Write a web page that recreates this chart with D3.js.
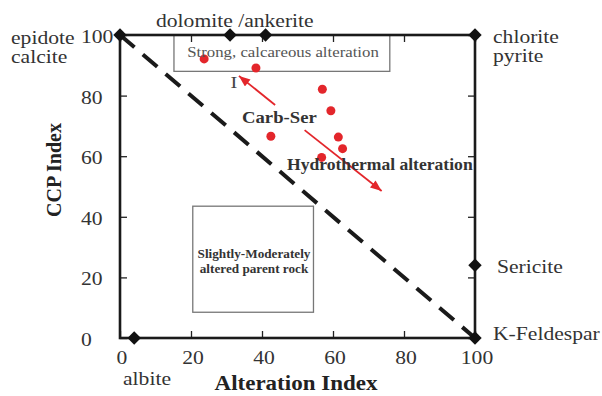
<!DOCTYPE html>
<html>
<head>
<meta charset="utf-8">
<script src="https://cdn.jsdelivr.net/npm/d3@7"></script>
<style>
  body { margin: 0; background: #fff; }
  text { font-family: "Liberation Serif", "Times New Roman", serif; }
</style>
</head>
<body>
<div id="chart"></div>
<script>
// Alteration box plot: AI vs CCP

// sample points
var aiValues = [23.7, 38.3, 57.0, 59.4, 42.5, 61.5, 62.7, 56.8];
var ccpValues = [92.1, 89.1, 82.1, 75.0, 66.6, 66.3, 62.5, 59.6];

// reference minerals (diamonds)
var mineralNames = ["epidote / calcite", "dolomite", "ankerite", "chlorite / pyrite", "sericite", "K-feldspar", "albite"];
var mineralAI = [0, 31, 41, 100, 100, 100, 4];
var mineralCCP = [100, 100, 100, 100, 24, 0, 0];

var tickValues = [0, 20, 40, 60, 80, 100];
var tickLabels = ["0", "20", "40", "60", "80", "100"];

// least altered / most altered diagonal
var diagonalAI = [0, 100];
var diagonalCCP = [100, 0];

// fields
var calcareousBox = { ai: [15.2, 76], ccp: [88, 100] };
var parentRockBox = { ai: [20.5, 54.5], ccp: [8.5, 43.5] };

// trend arrows [fromAI, fromCCP, toAI, toCCP]
var arrowCarb = [43.7, 76.9, 33.5, 86.5];
var arrowHydro = [52, 68.6, 73.7, 48.5];

var svgWidth = 602;
var svgHeight = 396;

var margin = {
    top: 35,
    right: 127,
    bottom: 58,
    left: 120
};

var width = svgWidth - margin.left - margin.right;
var height = svgHeight - margin.top - margin.bottom;

var svg = d3.select("#chart")
    .append("svg")
    .attr("width", svgWidth)
    .attr("height", svgHeight);

var chartGroup = svg.append("g")
    .attr("transform", `translate(${margin.left}, ${margin.top})`);

var x = d3.scaleLinear().domain([0, 100]).range([0, width]);
var y = d3.scaleLinear().domain([0, 100]).range([height, 0]);

var red = "#e3262b";

// arrow head
svg.append("defs").append("marker")
    .attr("id", "head")
    .attr("viewBox", "0 0 10 8")
    .attr("refX", 10)
    .attr("refY", 4)
    .attr("markerWidth", 12)
    .attr("markerHeight", 9)
    .attr("markerUnits", "userSpaceOnUse")
    .attr("orient", "auto")
    .append("path")
    .attr("d", "M0,0 L10,4 L0,8 z")
    .attr("fill", red);

// text helper, the source font is a bit wider than Times
function addText(g, px, py, str, size, weight, anchor, fill, sx) {
    return g.append("text")
        .attr("transform", `translate(${px}, ${py}) scale(${sx}, 1)`)
        .attr("text-anchor", anchor)
        .style("font-size", size + "px")
        .style("font-weight", weight)
        .attr("fill", fill)
        .text(str);
}

// field boxes
[calcareousBox, parentRockBox].forEach(function (b) {
    chartGroup.append("rect")
        .attr("x", x(b.ai[0]))
        .attr("y", y(b.ccp[1]))
        .attr("width", x(b.ai[1]) - x(b.ai[0]))
        .attr("height", y(b.ccp[0]) - y(b.ccp[1]))
        .attr("fill", "none")
        .attr("stroke", "#777")
        .attr("stroke-width", 1.3);
});

// dashed diagonal
var line = d3.line()
    .x(function (d, i) { return x(diagonalAI[i]); })
    .y(function (d, i) { return y(diagonalCCP[i]); });

chartGroup.append("path")
    .attr("d", line(diagonalAI))
    .attr("fill", "none")
    .attr("stroke", "#1a1a1a")
    .attr("stroke-width", 4)
    .attr("stroke-dasharray", "19,11");

// inward ticks on all four sides
var tickLen = 7;
var axes = [
    { axis: d3.axisLeft(y), tr: "translate(0,0)" },
    { axis: d3.axisRight(y), tr: `translate(${width},0)` },
    { axis: d3.axisTop(x), tr: "translate(0,0)" },
    { axis: d3.axisBottom(x), tr: `translate(0,${height})` }
];
axes.forEach(function (a) {
    var g = chartGroup.append("g")
        .attr("transform", a.tr)
        .call(a.axis.tickValues(tickValues).tickSize(-tickLen).tickSizeOuter(0).tickFormat(""));
    g.select(".domain").remove();
    g.selectAll("line").attr("stroke", "#222").attr("stroke-width", 1.3);
});

// frame
chartGroup.append("rect")
    .attr("width", width)
    .attr("height", height)
    .attr("fill", "none")
    .attr("stroke", "#1a1a1a")
    .attr("stroke-width", 2.6);

// tick labels
tickValues.forEach(function (v, i) {
    addText(svg, margin.left + x(v) + 2, margin.top + height + 26, tickLabels[i], 18, "normal", "middle", "#333", 1.2);
    addText(svg, 81, margin.top + y(v) + 8, tickLabels[i], 18, "normal", "start", "#333", 1.2);
});

// mineral diamonds
chartGroup.selectAll(".mineral")
    .data(mineralNames)
    .enter().append("path")
    .attr("class", "mineral")
    .attr("d", d3.symbol().type(d3.symbolSquare).size(90))
    .attr("transform", function (d, i) {
        return `translate(${x(mineralAI[i])}, ${y(mineralCCP[i])}) rotate(45)`;
    })
    .attr("fill", "#111");

// samples
chartGroup.selectAll("circle")
    .data(aiValues)
    .enter().append("circle")
    .attr("cx", function (d) { return x(d); })
    .attr("cy", function (d, i) { return y(ccpValues[i]); })
    .attr("r", 4.5)
    .attr("fill", red);

// trend arrows
[arrowCarb, arrowHydro].forEach(function (a) {
    chartGroup.append("line")
        .attr("x1", x(a[0]))
        .attr("y1", y(a[1]))
        .attr("x2", x(a[2]))
        .attr("y2", y(a[3]))
        .attr("stroke", red)
        .attr("stroke-width", 1.8)
        .attr("marker-end", "url(#head)");
});

// mineral labels
addText(svg, 11, 44, "epidote", 18, "normal", "start", "#333", 1.2);
addText(svg, 11, 63, "calcite", 18, "normal", "start", "#333", 1.2);
addText(svg, 156, 27, "dolomite /ankerite", 18, "normal", "start", "#333", 1.2);
addText(svg, 493, 43, "chlorite", 18, "normal", "start", "#333", 1.2);
addText(svg, 493, 62, "pyrite", 18, "normal", "start", "#333", 1.2);
addText(svg, 497, 273, "Sericite", 18, "normal", "start", "#333", 1.2);
addText(svg, 493, 340, "K-Feldespar", 18, "normal", "start", "#333", 1.2);
addText(svg, 123, 385, "albite", 18, "normal", "start", "#333", 1.2);

// field labels
addText(svg, 283, 57, "Strong, calcareous alteration", 14, "normal", "middle", "#555", 1.2);
addText(svg, 254, 258, "Slightly-Moderately", 12, "bold", "middle", "#333", 1.1);
addText(svg, 254, 273, "altered parent rock", 12, "bold", "middle", "#333", 1.1);
addText(svg, 234, 88, "I", 17, "normal", "middle", "#444", 1.2);
addText(svg, 242, 123, "Carb-Ser", 17, "bold", "start", "#333", 1.1);
addText(svg, 287, 170, "Hydrothermal alteration", 16, "bold", "start", "#333", 1.1);

// axis titles
addText(svg, 296, 390, "Alteration Index", 20, "bold", "middle", "#222", 1.15);

svg.append("text")
    .attr("transform", "translate(61, 170) rotate(-90)")
    .attr("text-anchor", "middle")
    .style("font-size", "20px")
    .style("font-weight", "bold")
    .attr("fill", "#222")
    .text("CCP Index");
</script>
</body>
</html>
